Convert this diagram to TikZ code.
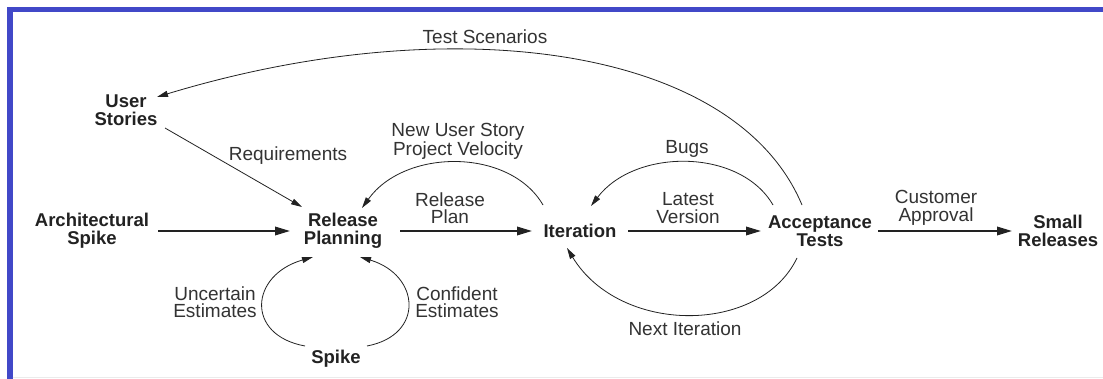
\documentclass[tikz,border=0pt]{standalone}
\usepackage{fontspec}
\setmainfont{Liberation Sans}
\usetikzlibrary{arrows.meta}
\definecolor{frameblue}{HTML}{4148C8}
\definecolor{txt}{HTML}{222222}
\definecolor{lbl}{HTML}{333333}
\definecolor{ln}{HTML}{222222}
\tikzset{
  box/.style={inner sep=0pt, outer sep=0pt, align=center, text=txt,
    font=\fontsize{18.5}{18}\selectfont\bfseries},
  lab/.style={inner sep=0pt, outer sep=0pt, align=center, text=lbl,
    font=\fontsize{19}{17.5}\selectfont},
  mainarrow/.style={draw=ln, line width=1.8pt, -{Triangle[length=15pt,width=8.5pt]}},
  curvearrow/.style={draw=ln, line width=0.8pt, -{Triangle[length=11pt,width=6pt]}},
}
\begin{document}
\begin{tikzpicture}[x=1pt,y=-1pt]
\useasboundingbox (0,0) rectangle (1103,379);
\fill[white] (0,0) rectangle (1103,379);
% frame
\fill[frameblue] (7,7) rectangle (1103,12.5);
\fill[frameblue] (7,7) rectangle (12.5,379);
\draw[color=black!8, line width=1pt] (12.5,377.5) -- (1103,377.5);

% nodes
\node[box] (us) at (126,110) {User\\Stories};
\node[box] (as) at (92,231) {Architectural\\Spike};
\node[box] (rp) at (343,231) {Release\\Planning};
\node[box] (it) at (580,231) {Iteration};
\node[box] (at) at (820,231) {Acceptance\\Tests};
\node[box] (sr) at (1058,231) {Small\\Releases};
\node[box] (sp) at (336,359) {Spike};

% labels
\node[lab] (lts) at (485,37) {Test Scenarios};
\node[lab] (lrq) at (288,156) {Requirements};
\node[lab] (lnu) at (458,141) {New User Story\\Project Velocity};
\node[lab] (lrp) at (450,208) {Release\\Plan};
\node[lab] (lbg) at (687,149) {Bugs};
\node[lab] (llv) at (688,208) {Latest\\Version};
\node[lab] (lca) at (936,208) {Customer\\Approval};
\node[lab] (lue) at (215,302) {Uncertain\\Estimates};
\node[lab] (lce) at (457,302) {Confident\\Estimates};
\node[lab] (lni) at (685,329) {Next Iteration};

% straight arrows
\draw[mainarrow] ([shift={(66,0)}]as.center) -- ([shift={(-53,0)}]rp.center);
\draw[mainarrow] ([shift={(57,0)}]rp.center) -- ([shift={(-48,0)}]it.center);
\draw[mainarrow] ([shift={(48,0)}]it.center) -- ([shift={(-59,0)}]at.center);
\draw[mainarrow] ([shift={(58,0)}]at.center) -- ([shift={(-46,0)}]sr.center);

% requirements
\draw[curvearrow] ([shift={(39,18)}]us.center) -- ([shift={(-41,-24)}]rp.center);

% curves
\draw[curvearrow] ([shift={(-18,-26)}]at.center) .. controls (735,45) and (450,8) .. ([shift={(31,-13)}]us.center);
\draw[curvearrow] ([shift={(-37,-26)}]it.center) .. controls (510,148) and (405,148) .. ([shift={(19,-23)}]rp.center);
\draw[curvearrow] ([shift={(-47,-26)}]at.center) .. controls (740,148) and (635,148) .. ([shift={(11,-25)}]it.center);
\draw[curvearrow] ([shift={(-23,27)}]at.center) .. controls (760,335) and (620,335) .. ([shift={(-13,17)}]it.center);
\draw[curvearrow] ([shift={(-31,-13)}]sp.center) .. controls (245,335) and (250,275) .. ([shift={(-30,26)}]rp.center);
\draw[curvearrow] ([shift={(31,-13)}]sp.center) .. controls (425,335) and (420,275) .. ([shift={(17,26)}]rp.center);
\end{tikzpicture}
\end{document}
